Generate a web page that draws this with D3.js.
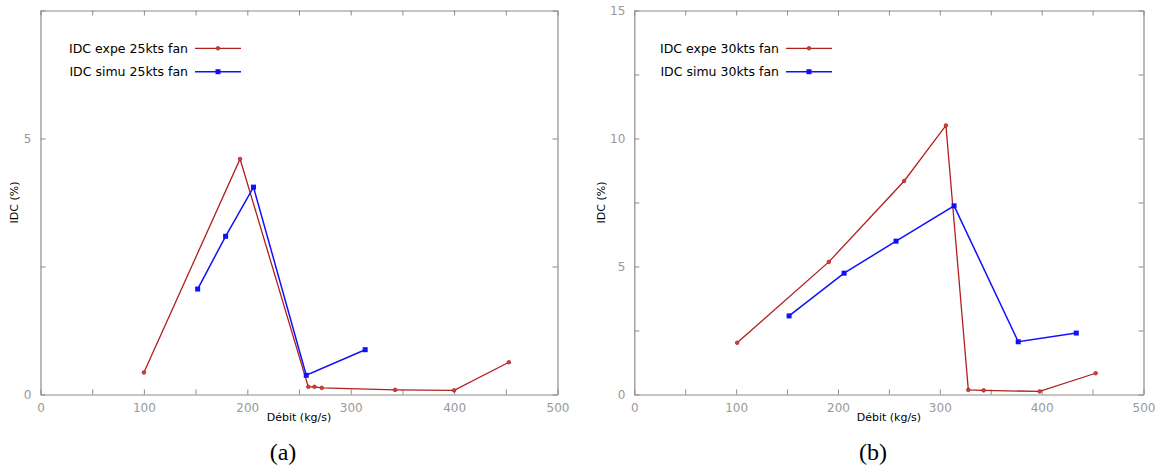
<!DOCTYPE html>
<html><head><meta charset="utf-8">
<script src="https://cdn.jsdelivr.net/npm/d3@7"></script>
<style>
body{margin:0;background:#fff;}
svg{display:block;}
</style></head>
<body><svg id="c" width="1161" height="468"></svg>
<script>
// ---- Data ----
const expe25X = [100, 193, 259, 265, 272, 343, 400, 453];
const expe25Y = [0.43, 4.60, 0.15, 0.15, 0.13, 0.09, 0.08, 0.63];
const simu25X = [152, 179, 206, 257, 314];
const simu25Y = [2.06, 3.09, 4.05, 0.375, 0.875];

const expe30X = [101, 191, 265, 306, 328, 343, 398, 453];
const expe30Y = [2.02, 5.18, 8.34, 10.51, 0.18, 0.16, 0.12, 0.83];
const simu30X = [152, 206, 257, 314, 377, 434];
const simu30Y = [3.07, 4.74, 5.99, 7.37, 2.06, 2.40];

const xTicks = [0, 50, 100, 150, 200, 250, 300, 350, 400, 450, 500];
const yTicksA = [0, 2.5, 5, 7.5];
const yTicksB = [0, 2.5, 5, 7.5, 10, 12.5, 15];
const legendA = ["IDC expe 25kts fan", "IDC simu 25kts fan"];
const legendB = ["IDC expe 30kts fan", "IDC simu 30kts fan"];
const xTitle = "Débit (kg/s)";
const yTitle = "IDC (%)";
const captions = ["(a)", "(b)"];

const RED = "#b0201e", BLUE = "#1010ff", AXIS = "#8c8c8c", TICKTXT = "#999";
const svg = d3.select("#c");

const panels = [
  {x0: 40.5, x1: 557.5, yMax: 7.5, yTicks: yTicksA, expe: [expe25X, expe25Y], simu: [simu25X, simu25Y], legend: legendA, legX: 188, cap: captions[0], yl: 23},
  {x0: 634.3, x1: 1143.5, yMax: 15, yTicks: yTicksB, expe: [expe30X, expe30Y], simu: [simu30X, simu30Y], legend: legendB, legX: 779, cap: captions[1], yl: 29}
];
const yTop = 10.5, yBot = 394.5;

panels.forEach(p => {
  const x = d3.scaleLinear().domain([0, 500]).range([p.x0, p.x1]);
  const y = d3.scaleLinear().domain([0, p.yMax]).range([yBot, yTop]);
  const g = svg.append("g");

  const fmtX = d => (d % 100 === 0 ? d : "");
  const fmtY = d => (d % 5 === 0 ? d : "");

  const styleAxis = sel => {
    sel.select(".domain").attr("stroke", AXIS).attr("stroke-width", 1.2);
    sel.selectAll(".tick line").attr("stroke", AXIS).attr("stroke-width", 1);
    sel.selectAll(".tick text").attr("fill", TICKTXT).attr("font-family", "DejaVu Sans").attr("font-size", 12);
  };

  g.append("g").attr("transform", `translate(0,${yBot})`)
    .call(d3.axisBottom(x).tickValues(xTicks).tickFormat(fmtX).tickSizeInner(-5).tickSizeOuter(0).tickPadding(9))
    .call(styleAxis);
  g.append("g").attr("transform", `translate(0,${yTop})`)
    .call(d3.axisTop(x).tickValues(xTicks).tickFormat("").tickSizeInner(-5).tickSizeOuter(0))
    .call(styleAxis);
  g.append("g").attr("transform", `translate(${p.x0},0)`)
    .call(d3.axisLeft(y).tickValues(p.yTicks).tickFormat(fmtY).tickSizeInner(-5).tickSizeOuter(0).tickPadding(9))
    .call(styleAxis);
  g.append("g").attr("transform", `translate(${p.x1},0)`)
    .call(d3.axisRight(y).tickValues(p.yTicks).tickFormat("").tickSizeInner(-5).tickSizeOuter(0))
    .call(styleAxis);

  // axis titles
  g.append("text").attr("x", (p.x0 + p.x1) / 2).attr("y", 421)
    .attr("text-anchor", "middle").attr("font-family", "DejaVu Sans").attr("font-size", 11)
    .attr("fill", "#000").text(xTitle);
  g.append("text").attr("transform", `translate(${p.x0 - p.yl},${(yTop + yBot) / 2}) rotate(-90)`)
    .attr("text-anchor", "middle").attr("font-family", "DejaVu Sans").attr("font-size", 11)
    .attr("fill", "#000").text(yTitle);

  const line = d3.line().x(d => x(d[0])).y(d => y(d[1]));
  const expePts = p.expe[0].map((v, i) => [v, p.expe[1][i]]);
  const simuPts = p.simu[0].map((v, i) => [v, p.simu[1][i]]);

  g.append("path").datum(expePts).attr("d", line).attr("fill", "none").attr("stroke", RED).attr("stroke-width", 1.3);
  g.selectAll(".pe").data(expePts).enter().append("circle")
    .attr("cx", d => x(d[0])).attr("cy", d => y(d[1])).attr("r", 1.8)
    .attr("fill", "#d04040").attr("stroke", RED).attr("stroke-width", 0.8);

  g.append("path").datum(simuPts).attr("d", line).attr("fill", "none").attr("stroke", BLUE).attr("stroke-width", 1.5);
  g.selectAll(".ps").data(simuPts).enter().append("rect")
    .attr("x", d => x(d[0]) - 2.5).attr("y", d => y(d[1]) - 2.5).attr("width", 5).attr("height", 5)
    .attr("fill", BLUE);

  // legend
  const rows = [{t: p.legend[0], c: RED, m: "c", yy: 48.3}, {t: p.legend[1], c: BLUE, m: "s", yy: 71.7}];
  rows.forEach(r => {
    g.append("text").attr("x", p.legX).attr("y", r.yy + 4.5).attr("text-anchor", "end")
      .attr("font-family", "DejaVu Sans").attr("font-size", 12.5).attr("fill", "#000").text(r.t);
    g.append("line").attr("x1", p.legX + 7).attr("x2", p.legX + 53).attr("y1", r.yy).attr("y2", r.yy)
      .attr("stroke", r.c).attr("stroke-width", r.m === "c" ? 1.3 : 1.5);
    const mx = p.legX + 30;
    if (r.m === "c") {
      g.append("circle").attr("cx", mx).attr("cy", r.yy).attr("r", 1.8).attr("fill", "#d04040").attr("stroke", RED).attr("stroke-width", 0.8);
    } else {
      g.append("rect").attr("x", mx - 2.5).attr("y", r.yy - 2.5).attr("width", 5).attr("height", 5).attr("fill", BLUE);
    }
  });

  // caption
  g.append("text").attr("x", (p.x0 + p.x1) / 2 - 16).attr("y", 460)
    .attr("text-anchor", "middle").attr("font-family", "Liberation Serif").attr("font-size", 24)
    .attr("fill", "#000").text(p.cap);
});
</script></body></html>
